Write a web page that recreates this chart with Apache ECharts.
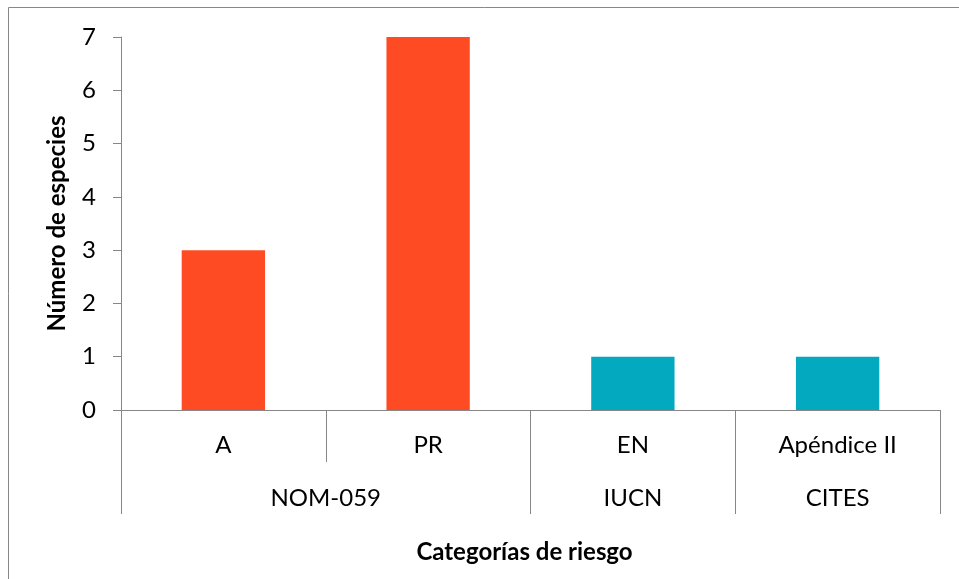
<!DOCTYPE html>
<html>
<head>
<meta charset="utf-8">
<script src="https://cdn.jsdelivr.net/npm/echarts@6/dist/echarts.min.js"></script>
<style>
  html, body { margin: 0; padding: 0; background: #fff; }
  #chart { width: 959px; height: 579px; }
</style>
</head>
<body>
<div id="chart"></div>
<script>
// Risk categories and number of species in each
const categories = ['A', 'PR', 'EN', 'Apéndice II'];
const speciesCount = [3, 7, 1, 1];
const barColors = ['#FF4B23', '#FF4B23', '#03A9BF', '#03A9BF'];

// Group (listing) labels: placed on a half-step axis so each sits under its span
const groupSlots = ['', '', 'NOM-059', '', '', 'IUCN', '', 'CITES', ''];
const groupBoundaries = [0, 4, 6, 8];

const yTicks = { min: 0, max: 7, interval: 1 };

const FONT = 'Lato';
const AXIS_GRAY = '#878787';

const chart = echarts.init(document.getElementById('chart'), null, { renderer: 'canvas' });

chart.setOption({
  animation: false,
  backgroundColor: '#fff',
  grid: { left: 121, right: 19, top: 37, bottom: 169, containLabel: false },
  graphic: [{
    type: 'rect',
    shape: { x: 8.5, y: 7.5, width: 1000, height: 1000 },
    style: { fill: 'none', stroke: AXIS_GRAY, lineWidth: 1 },
    silent: true
  }],
  xAxis: [
    {
      type: 'category',
      data: categories,
      position: 'bottom',
      axisLine: { show: true, lineStyle: { color: AXIS_GRAY, width: 1 } },
      axisTick: { show: true, length: 52, lineStyle: { color: AXIS_GRAY } },
      axisLabel: { color: '#000', fontFamily: FONT, fontSize: 24, margin: 23 },
      splitLine: { show: false }
    },
    {
      type: 'category',
      data: groupSlots,
      position: 'bottom',
      boundaryGap: false,
      axisLine: { show: false },
      axisTick: {
        show: true, length: 104,
        interval: (i) => groupBoundaries.includes(i),
        lineStyle: { color: AXIS_GRAY }
      },
      axisLabel: {
        color: '#000', fontFamily: FONT, fontSize: 24, margin: 76,
        interval: 0
      },
      name: 'Categorías de riesgo',
      nameLocation: 'middle',
      nameGap: 130,
      nameTextStyle: {
        color: '#000', fontFamily: FONT, fontSize: 24, fontWeight: 'bold',
        padding: [0, 12, 0, 0]
      },
      splitLine: { show: false }
    }
  ],
  yAxis: {
    type: 'value',
    min: yTicks.min,
    max: yTicks.max,
    interval: yTicks.interval,
    axisLine: { show: true, lineStyle: { color: AXIS_GRAY, width: 1 } },
    axisTick: { show: true, length: 8, lineStyle: { color: AXIS_GRAY } },
    axisLabel: { color: '#000', fontFamily: FONT, fontSize: 24, margin: 25 },
    splitLine: { show: false },
    name: 'Número de especies',
    nameLocation: 'middle',
    nameGap: 52,
    nameRotate: 90,
    nameTextStyle: { color: '#000', fontFamily: FONT, fontSize: 24, fontWeight: 'bold' }
  },
  series: [{
    type: 'bar',
    xAxisIndex: 0,
    data: speciesCount.map((v, i) => ({ value: v, itemStyle: { color: barColors[i] } })),
    barWidth: '40.7%'
  }]
});
</script>
</body>
</html>
